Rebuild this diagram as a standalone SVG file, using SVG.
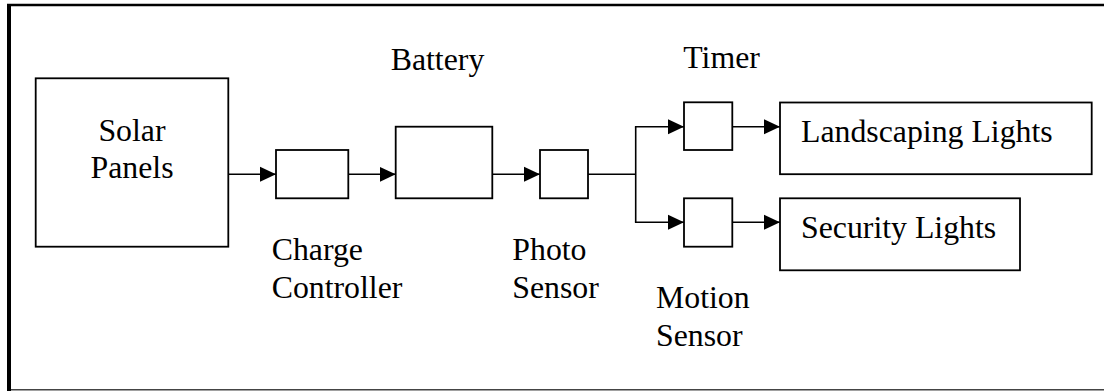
<svg xmlns="http://www.w3.org/2000/svg" width="1104" height="391" viewBox="0 0 1104 391">
<style>
.box{fill:#fff;stroke:#000;stroke-width:1.8}
.lbl{font-family:"Liberation Serif","Times New Roman",serif;font-size:31.8px;fill:#000}
.ln{fill:none;stroke:#000;stroke-width:1.6}
</style>
<defs>
<marker id="ah" markerUnits="userSpaceOnUse" markerWidth="16" markerHeight="16" viewBox="0 0 16 16" refX="16" refY="8" orient="auto">
<path d="M0,0.5 L16,8 L0,15.5 Z" fill="#000"/>
</marker>
</defs>
<rect width="1104" height="391" fill="#fff"/>
<g id="frame">
<line x1="7" y1="5" x2="1104" y2="5" stroke="#000" stroke-width="2.6"/>
<line x1="9" y1="4" x2="9" y2="391" stroke="#000" stroke-width="4"/>
<line x1="11" y1="389.8" x2="1104" y2="389.8" stroke="#444" stroke-width="1.5"/>
</g>
<g id="connectors">
<line class="ln" x1="228.3" y1="174.3" x2="276" y2="174.3" marker-end="url(#ah)"/>
<line class="ln" x1="348.3" y1="174.3" x2="395.7" y2="174.3" marker-end="url(#ah)"/>
<line class="ln" x1="492.3" y1="174.3" x2="540" y2="174.3" marker-end="url(#ah)"/>
<line class="ln" x1="588" y1="174.3" x2="635.7" y2="174.3"/>
<line class="ln" x1="635.7" y1="126.7" x2="635.7" y2="222.3"/>
<line class="ln" x1="634.9" y1="126.7" x2="684" y2="126.7" marker-end="url(#ah)"/>
<line class="ln" x1="634.9" y1="222.3" x2="684" y2="222.3" marker-end="url(#ah)"/>
<line class="ln" x1="732.3" y1="126.7" x2="780" y2="126.7" marker-end="url(#ah)"/>
<line class="ln" x1="732.3" y1="222.3" x2="780" y2="222.3" marker-end="url(#ah)"/>
</g>
<g id="solar-panels">
<rect class="box" x="35.7" y="78.3" width="192.6" height="168.4"/>
<text class="lbl" x="132" y="140.7" text-anchor="middle">Solar</text>
<text class="lbl" x="132" y="178.3" text-anchor="middle">Panels</text>
</g>
<g id="charge-controller">
<rect class="box" x="276" y="150" width="72.3" height="48.3"/>
<text class="lbl" x="271.7" y="260">Charge</text>
<text class="lbl" x="271.7" y="298.3">Controller</text>
</g>
<g id="battery">
<rect class="box" x="395.7" y="126.7" width="96.6" height="71.6"/>
<text class="lbl" x="390.7" y="70">Battery</text>
</g>
<g id="photo-sensor">
<rect class="box" x="540" y="150" width="48" height="48.3"/>
<text class="lbl" x="512.3" y="260">Photo</text>
<text class="lbl" x="512.3" y="298.3">Sensor</text>
</g>
<g id="timer">
<rect class="box" x="684" y="102.3" width="48.3" height="47.7"/>
<text class="lbl" x="683.3" y="68.3">Timer</text>
</g>
<g id="motion-sensor">
<rect class="box" x="684" y="198.3" width="48.3" height="48.4"/>
<text class="lbl" x="656" y="308.3">Motion</text>
<text class="lbl" x="656" y="346">Sensor</text>
</g>
<g id="landscaping-lights">
<rect class="box" x="780" y="102.5" width="311.7" height="71.7"/>
<text class="lbl" x="801" y="141.7">Landscaping Lights</text>
</g>
<g id="security-lights">
<rect class="box" x="780" y="198.3" width="240" height="72"/>
<text class="lbl" x="801" y="238.3">Security Lights</text>
</g>
</svg>
